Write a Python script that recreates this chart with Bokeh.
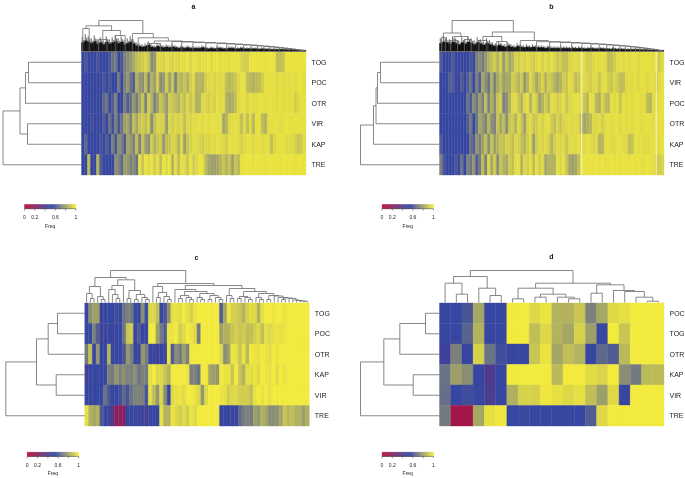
from bokeh.plotting import figure
from bokeh.models import Range1d, ColumnDataSource, LinearColorMapper
from bokeh.transform import transform
from bokeh.core.properties import value
from bokeh.embed import file_html
from bokeh.resources import INLINE

# ---------- values ----------
a_labels = ["TOG", "POC", "OTR", "VIR", "KAP", "TRE"]
a_TOG = [.52,.6,.53,.53,.53,.6,.52,.52,.55,.6,.68,.7,.52,.6,.72,.75,.78,.82,.88,.9,.92,.94,.9,.75,.78,.95,.95,.93,.97,.95,.93,.96,.94,.97,.96,.98,.94,.97,
         .97,.95,.97,.96,.98,.95,.97,.98,.96,.98,.97,.96,.98,.97,.98,.94,.92,.92,.98,.98,.98,.98,.98,.97,.98,.98,.98,.88,.88,.9,.98,.98,.98,.98,.98,.98,.98]
a_POC = [.5,.5,.5,.52,.52,.52,.52,.6,.52,.6,.52,.5,.7,.55,.72,.78,.68,.62,.85,.78,.75,.88,.72,.85,.8,.92,.75,.78,.92,.8,.9,.72,.88,.85,.9,.84,.92,.96,
         .85,.86,.84,.92,.95,.96,.94,.96,.95,.96,.88,.86,.88,.9,.95,.97,.97,.88,.86,.85,.87,.88,.92,.97,.97,.97,.97,.95,.97,.96,.97,.96,.97,.96,.97,.98,.96]
a_OTR = [.5,.5,.5,.5,.5,.52,.5,.65,.68,.5,.62,.72,.55,.5,.72,.62,.68,.78,.7,.8,.9,.72,.92,.85,.72,.8,.9,.85,.78,.92,.9,.88,.85,.92,.88,.95,.9,.94,
         .84,.84,.95,.95,.92,.95,.93,.97,.95,.96,.85,.82,.84,.88,.96,.97,.97,.94,.97,.96,.96,.97,.97,.96,.97,.97,.97,.96,.97,.96,.97,.96,.97,.92,.96,.97,.97]
a_VIR = [.52,.5,.55,.58,.55,.52,.52,.62,.55,.68,.58,.72,.6,.68,.8,.82,.72,.88,.82,.9,.92,.88,.93,.75,.88,.94,.93,.92,.78,.95,.92,.95,.93,.96,.88,.95,.94,.96,
         .96,.97,.95,.97,.96,.97,.97,.96,.97,.82,.85,.95,.96,.97,.96,.88,.96,.88,.96,.86,.97,.97,.88,.84,.96,.97,.97,.97,.96,.97,.98,.97,.97,.97,.97,.97,.97]
a_KAP = [.5,.65,.52,.52,.52,.55,.6,.52,.62,.55,.72,.6,.75,.72,.62,.82,.78,.72,.88,.72,.9,.8,.76,.92,.85,.9,.92,.78,.88,.9,.94,.93,.85,.95,.8,.9,.94,.96,
         .96,.94,.92,.95,.94,.96,.95,.97,.96,.95,.92,.97,.96,.97,.96,.93,.96,.97,.97,.96,.97,.97,.96,.96,.97,.88,.95,.97,.97,.97,.96,.96,.96,.93,.9,.92,.96]
a_TRE = [.5,.52,.88,.55,.52,.85,.62,.52,.5,.52,.5,.75,.72,.65,.8,.78,.72,.75,.68,.97,.9,.98,.95,.98,.92,.97,.88,.98,.95,.98,.85,.97,.88,.97,.96,.9,.98,.92,
         .95,.98,.97,.88,.82,.8,.8,.82,.85,.9,.85,.9,.8,.9,.86,.97,.98,.98,.98,.97,.98,.98,.98,.97,.98,.98,.98,.98,.97,.98,.98,.98,.98,.97,.98,.98,.98]

b_labels = ["TOG", "VIR", "POC", "OTR", "KAP", "TRE"]
b_TOG = [.62,.52,.52,.52,.62,.5,.5,.5,.5,.5,.6,.55,.72,.75,.7,.78,.85,.88,.92,.85,.93,.78,.9,.82,.85,.94,.92,.95,.93,.96,.94,.92,.95,.97,.93,.96,.94,.97,
         .94,.9,.92,.88,.88,.94,.95,.96,.95,.97,.96,.92,.92,.95,.97,.96,.97,.96,.88,.88,.92,.96,.97,.95,.97,.96,.97,.97,.95,.97,.97,.97,.97,.96,.97,.92,.96]
b_VIR = [.55,.52,.5,.62,.62,.5,.52,.62,.55,.62,.68,.55,.72,.62,.82,.75,.68,.85,.72,.82,.88,.8,.82,.82,.92,.9,.85,.92,.78,.85,.95,.9,.82,.88,.94,.85,.92,.9,
         .85,.82,.85,.92,.9,.96,.95,.88,.9,.96,.96,.94,.92,.95,.96,.9,.96,.97,.92,.9,.95,.92,.88,.88,.95,.96,.96,.97,.95,.97,.97,.95,.97,.97,.92,.96,.97]
b_POC = [.52,.52,.5,.5,.5,.52,.5,.52,.5,.68,.62,.75,.68,.8,.72,.88,.72,.85,.75,.9,.92,.72,.75,.85,.95,.96,.9,.85,.95,.97,.85,.96,.92,.8,.85,.92,.86,.96,
         .96,.92,.94,.97,.9,.94,.96,.97,.97,.96,.9,.86,.97,.96,.86,.84,.95,.88,.86,.97,.96,.97,.9,.97,.96,.97,.96,.97,.97,.96,.97,.88,.86,.96,.96,.97,.97]
b_OTR = [.5,.5,.55,.52,.52,.55,.52,.52,.5,.62,.7,.55,.68,.82,.78,.72,.86,.75,.72,.9,.82,.88,.75,.9,.92,.85,.95,.9,.8,.93,.96,.9,.92,.96,.93,.96,.97,.92,
         .88,.94,.9,.94,.95,.96,.95,.96,.95,.85,.82,.84,.86,.95,.95,.96,.92,.96,.97,.96,.97,.97,.95,.97,.96,.97,.96,.97,.97,.96,.97,.97,.97,.96,.97,.97,.97]
b_KAP = [.62,.5,.55,.5,.52,.5,.5,.52,.5,.55,.68,.62,.78,.72,.8,.88,.75,.9,.8,.85,.9,.88,.93,.92,.88,.95,.93,.88,.85,.92,.95,.8,.92,.95,.94,.96,.93,.85,
         .92,.96,.94,.95,.9,.95,.96,.95,.97,.96,.95,.97,.96,.94,.96,.85,.86,.96,.97,.96,.96,.97,.97,.96,.95,.88,.9,.97,.96,.97,.96,.96,.97,.97,.97,.96,.97]
b_TRE = [.72,.6,.52,.52,.5,.6,.52,.68,.55,.72,.68,.78,.62,.7,.88,.72,.95,.82,.92,.75,.9,.85,.82,.92,.88,.96,.97,.85,.95,.92,.97,.88,.97,.92,.96,.82,.85,.84,
         .85,.97,.94,.97,.9,.82,.8,.82,.88,.97,.98,.97,.98,.97,.98,.97,.98,.97,.97,.98,.97,.98,.97,.98,.97,.97,.98,.97,.98,.97,.97,.98,.97,.97,.92,.92,.94]
b_blank_cols = [47.5, 72.4]

c_labels = ["TOG", "POC", "OTR", "KAP", "VIR", "TRE"]
c_TOG = [.52,.75,.8,.8,.48,.5,.55,.55,.58,.55,.68,.72,.7,.52,.52,.75,.58,.95,.95,.88,.55,.6,.75,.97,.98,.96,1,.97,.93,.98,1,1,1,1,1,1,.62,.82,.98,.93,.92,.9,.85,.93,.96,.95,.85,.97,1,1,.98,1,1,.98,1,1,1,1,1,1]
c_POC = [.52,.53,.72,.62,.45,.52,.52,.47,.55,.55,.68,.9,.92,.55,.62,.52,.52,1,1,.8,.7,.62,.98,.98,1,.92,.95,1,.98,.95,.7,1,1,1,1,1,.8,.85,.85,.9,.92,.9,.92,.88,.88,.92,.95,.88,.97,.95,.97,.98,.97,.98,1,1,1,1,1,1]
c_OTR = [.7,.9,.55,.78,.5,.55,.85,.55,.52,.52,.6,.78,.72,.52,.55,.78,.72,.5,.48,.48,.55,.52,.98,.62,.75,.7,.8,.72,1,1,1,1,1,1,1,1,.95,.75,.8,.98,.97,.9,.98,.87,1,.98,.97,1,.98,.96,1,.98,1,1,1,1,1,1,1,1]
c_KAP = [.45,.5,.52,.53,.55,.55,.72,.7,.78,.72,.75,.72,.72,.75,.68,.72,.7,.97,1,.95,.95,.9,.85,1,1,1,1,.98,.72,.72,.68,1,1,.82,.8,.78,1,.98,.98,.9,1,.9,.85,.97,.96,.98,.95,1,.98,.97,1,.96,1,.98,1,1,1,1,1,1]
c_VIR = [.5,.52,.5,.52,.52,.68,.6,.5,.5,.58,.65,.6,.68,.72,.72,.72,.6,.97,.88,.78,.95,.75,.52,.95,.97,.98,.96,1,1,.98,.95,.78,.95,1,1,1,.98,.97,.92,.95,.95,.92,.92,.92,.88,.97,1,.98,1,.97,1,1,1,1,1,1,1,1,1,1]
c_TRE = [.97,.85,.82,.85,.62,.55,.5,.35,.2,.18,.22,.5,.52,.5,.45,.5,.45,.5,.5,.52,.97,.85,.85,.98,.95,.92,.96,.92,.98,.95,1,1,1,1,1,1,.5,.5,.52,.55,.55,.65,.7,.72,.7,.8,.78,.84,.82,.75,.75,.76,.82,.9,.86,.88,.84,.84,.8,.84]

d_labels = ["POC", "TOG", "OTR", "KAP", "VIR", "TRE"]
d_POC = [.52,.53,.6,.82,.52,.56,1,1,.95,.98,.85,.85,.9,.72,.82,.95,.97,1,1,1]
d_TOG = [.52,.53,.64,.85,.52,.56,1,1,.88,.95,.85,.82,.93,.8,.5,1,.9,1,1,1]
d_OTR = [.47,.72,.53,.93,.68,.58,.5,.5,.9,.98,.82,.88,.85,.52,.65,.62,.87,1,1,1]
d_KAP = [.68,.8,.75,.52,.42,.5,1,1,1,1,.87,1,1,.96,.94,1,.75,.7,.87,.87]
d_VIR = [.67,.52,.58,.52,.43,.5,.84,.93,.93,.99,.97,.95,.97,.88,.8,.95,.55,1,1,1]
d_TRE = [.7,.1,.1,.82,.97,.99,.52,.57,.55,.53,.52,.52,.52,.62,.95,1,1,1,1,1]

# row dendrograms: [merge height, upper, lower]; a number is a leaf of that weight
a_row_tree = [78.5, [61.5, [56, [53, 1, 1], 1], [54, 1, 1]], 1]
b_row_tree = [79, [66, [63.5, [62, [59, 1, 1], 1], 1], 1], 1]
c_row_tree = [79, [48.3, [36.6, [27.3, 1, 1], 1], [28.6, 1, 1]], 1]
d_row_tree = [79, [55.7, [39.7, [14, 1, 1], 1], [26.3, 1, 1]], 1]

# column dendrograms
a_stair_h = [10, 9.5, 9, 8.5, 8, 7.5, 7, 6.5, 6, 5.5, 5, 4.5, 4, 3.5, 3, 2.5, 2, 1.5, 1, .8]
a_stair_w = [30, 30, 40, 40, 30, 30, 25, 25, 20, 20, 20, 15, 15, 15, 15, 15, 10, 10, 10, 10, 6]
b_stair_h = [9.5, 9, 8.5, 8, 7.5, 7, 6.5, 6, 5.5, 5, 4.5, 4, 3.5, 3, 2.5, 2, 1.5, 1, .8]
b_stair_w = [40, 40, 40, 35, 30, 30, 25, 25, 20, 20, 20, 15, 15, 15, 15, 15, 10, 10, 10, 6]
a_spike = [14,17,15,13,16,12,14,11,15,12,14,16,13,15,11,13,15,12,9,8,7,8,10,7,6,8,7,6,7,6,7,6,5,6,5,6,5,5,
           5,5,6,5,4,5,4,5,5,4,4,5,5,4,4,5,4,4,4,4,4,3.5,4,3.5,3.5,3,3,3,3,3,2.5,2.5,2.5,2.5,2,2,1.5]
b_spike = [13,15,14,12,15,13,11,14,12,15,13,11,14,12,10,13,11,9,8,10,8,7,9,7,6,8,7,6,7,6,7,6,6,6,5,6,5,5,
           5,5,5,5,4.5,5,4.5,5,4.5,4,4.5,5,4,4,4.5,4,4,3.5,4,3.5,3.5,3.5,3,3,3,3,3,2.5,2.5,2.5,2,2,2,1.5,1.5]

c_tree = [32,
          [25,
           [16, [9, 1, [4, 1, 1]], [6, 1, [3, 1, 1]]],
           [22.7,
            [17, [13, 1, [8, 1, [4, 1, 1]]], 1],
            [12, [4, 1, 1], [8, [3, 1, 1], [5, 1, [3, 1, 1]]]]]],
          [19,
           [16, 1, [10, [5, 1, 1], [6, 1, [3, 1, 1]]]],
           [17,
            [13, 1, [11, [7, [4, 1, 1], [5, 1, [3, 1, 1]]],
                     [9, [5, 1, [3, 1, 1]], [7, [3, 1, 1], [5, 1, [3, 1, 1]]]]]],
            [14, [7, 1, [4, 1, 1]],
             [11, [6, [4, 1, 1], [5, 1, [3, 1, 1]]],
              [9, [5, 1, [3, 1, 1]],
               [7, [3, 1, 1],
                [6.5, 1, [5, 1, [4.5, [3, 1, 1], [4, 1, [2.5, 1, [2, 1, [1.5, 1, [1.2, 1, 1]]]]]]]]]]]]]]]

d_tree = [32,
          [26, [19.3, 1, [8.3, 1, 1]], [14.3, 1, [7, 1, 1]]],
          [19.3,
           [14.3, [3.7, 1, 1], [8.3, [5.3, 1, 1], [5.3, 1, [3.7, 1, 1]]]],
           [17.7, [9.3, 1, 1], [12, 1, [11, 1, [5.3, 1, [1.3, 1, 1]]]]]]]

key_ticks = [0, .2, .4, .6, .8, 1]
key_labels = {0: "0", .2: "0.2", .6: "0.6", 1: "1"}

# ---------- panel placement ----------
W, RH = 224.5, 20.5
FONT = "Liberation Sans"
LINE = "#6a6a6a"

def stairs(heights, widths):
    node = widths[-1]
    for h, w in zip(reversed(heights), reversed(widths[:-1])):
        node = [h, w, node]
    return node

a_tree = [31,
          [25.7, [23, 8, 32], [21, [12, 26, 26], [16, 28, 31]]],
          [18, 14, [13.7, 22, [10.5, [8, 38, 41], stairs(a_stair_h, a_stair_w)]]]]
b_tree = [31,
          [18.5, [14, 14, 14], [15, [11, 25, 25], [12, 25, 25]]],
          [19.5, [15, [11, 30, 30], [10, 40, 35]],
           [11, 62, [9.8, 56, stairs(b_stair_h, b_stair_w)]]]]

def weight(n):
    return n if not isinstance(n, list) else weight(n[1]) + weight(n[2])

def walk(node, start, k, out):
    if not isinstance(node, list):
        return start + node * k / 2, 0, start + node * k
    h, l, r = node
    cl, hl, e = walk(l, start, k, out)
    cr, hr, e = walk(r, e, k, out)
    out += [(cl, hl, cl, h), (cl, h, cr, h), (cr, h, cr, hr)]
    return (cl + cr) / 2, h, e

palette = []
ANCH = [(0, (190, 10, 50)), (.5, (55, 70, 160)), (.56, (55, 70, 160)), (1, (242, 234, 60))]
for i in range(256):
    t = i / 255
    for (t0, c0), (t1, c1) in zip(ANCH, ANCH[1:]):
        if t <= t1:
            break
    f = (t - t0) / (t1 - t0)
    palette.append("#%02x%02x%02x" % tuple(round(c0[j] + (c1[j] - c0[j]) * f) for j in range(3)))
mapper = LinearColorMapper(palette=palette, low=0, high=1)

p = figure(width=685, height=478, output_backend="svg", toolbar_location=None,
           x_range=Range1d(0, 685), y_range=Range1d(478, 0), min_border=0,
           outline_line_color=None, background_fill_color=None, border_fill_color=None,
           styles={"position": "fixed", "left": "0px", "top": "0px"})
p.xaxis.visible = False
p.yaxis.visible = False
p.grid.visible = False

def txt(x, y, s, size, align="left", style="normal", color="#222222"):
    p.text([x], [y], text=[s], text_font=value(FONT), text_font_size=size, text_align=align,
           text_baseline="middle", text_font_style=style, text_color=color)

def panel(title, title_xy, x0, y0, rows, labels, row_tree, col_tree, key_x, key_y, spike=None, blanks=()):
    # heat cells
    left, right, top, bottom, val = [], [], [], [], []
    for r, row in enumerate(rows):
        w = W / len(row)
        for c, v in enumerate(row):
            left.append(x0 + c * w); right.append(x0 + (c + 1) * w)
            top.append(y0 + r * RH); bottom.append(y0 + (r + 1) * RH)
            val.append(v)
    src = ColumnDataSource(dict(left=left, right=right, top=top, bottom=bottom, v=val))
    p.quad(left="left", right="right", top="top", bottom="bottom", source=src,
           fill_color=transform("v", mapper), line_color=transform("v", mapper), line_width=0.4)
    for b in blanks:
        bx = x0 + b * W / len(rows[0])
        p.segment([bx], [y0], [bx], [y0 + 6 * RH], line_color="#f4f4d0", line_width=1)
    # dense lower part of the column dendrogram
    if spike:
        w = W / len(spike)
        base = y0 - .7
        p.quad(left=[x0 + i * w for i in range(len(spike))], right=[x0 + (i + 1) * w for i in range(len(spike))],
               top=[base - h * .62 for h in spike], bottom=[base] * len(spike), fill_color="black", line_color="black", line_width=.3)
        p.segment([x0 + (i + .25) * w for i in range(len(spike))], [base] * len(spike),
                  [x0 + (i + .25) * w for i in range(len(spike))], [base - h for h in spike], line_color="#222222", line_width=.7)
        p.segment([x0 + (i + .75) * w for i in range(len(spike))], [base] * len(spike),
                  [x0 + (i + .75) * w for i in range(len(spike))], [base - h * .8 for h in spike], line_color="#222222", line_width=.7)
    # column dendrogram
    out = []
    walk(col_tree, 0, W / weight(col_tree), out)
    p.segment([x0 + s[0] for s in out], [y0 - s[1] - .5 for s in out],
              [x0 + s[2] for s in out], [y0 - s[3] - .5 for s in out], line_color=LINE, line_width=.8)
    # row dendrogram
    out = []
    walk(row_tree, 0, RH, out)
    p.segment([x0 - s[1] for s in out], [y0 + s[0] for s in out],
              [x0 - s[3] for s in out], [y0 + s[2] for s in out], line_color=LINE, line_width=.8)
    # labels
    for r, s in enumerate(labels):
        txt(x0 + W + 5.5, y0 + (r + .5) * RH, s, "7px")
    txt(title_xy[0], title_xy[1], title, "7px", "center", "bold", "#111111")
    # colour key
    KW, KH = 51.5, 4.2
    n = 80
    ksrc = ColumnDataSource(dict(left=[key_x + i * KW / n for i in range(n)],
                                 right=[key_x + (i + 1) * KW / n for i in range(n)],
                                 v=[(i + .5) / n for i in range(n)]))
    p.quad(left="left", right="right", top=key_y, bottom=key_y + KH, source=ksrc,
           fill_color=transform("v", mapper), line_color=transform("v", mapper), line_width=.3)
    p.segment([key_x], [key_y + KH], [key_x + KW], [key_y + KH], line_color="#444444", line_width=.5)
    for t in key_ticks:
        tx = key_x + t * KW
        p.segment([tx], [key_y + KH], [tx], [key_y + KH + 2], line_color="#444444", line_width=.5)
        if t in key_labels:
            txt(tx, key_y + 12.5, key_labels[t], "5px", "center")
    txt(key_x + KW / 2, key_y + 21, "Freq", "5px", "center")

panel("a", (193, 6), 81, 51.5, [a_TOG, a_POC, a_OTR, a_VIR, a_KAP, a_TRE], a_labels, a_row_tree, a_tree, 24, 204, a_spike)
panel("b", (551, 6), 439, 51.5, [b_TOG, b_VIR, b_POC, b_OTR, b_KAP, b_TRE], b_labels, b_row_tree, b_tree, 381.5, 204, b_spike, b_blank_cols)
panel("c", (196, 257), 84.3, 302.5, [c_TOG, c_POC, c_OTR, c_KAP, c_VIR, c_TRE], c_labels, c_row_tree, c_tree, 26.7, 451.7)
panel("d", (551, 256), 439, 302.5, [d_POC, d_TOG, d_OTR, d_KAP, d_VIR, d_TRE], d_labels, d_row_tree, d_tree, 381.5, 451.7)

open("out.html", "w").write(file_html(p, INLINE))
